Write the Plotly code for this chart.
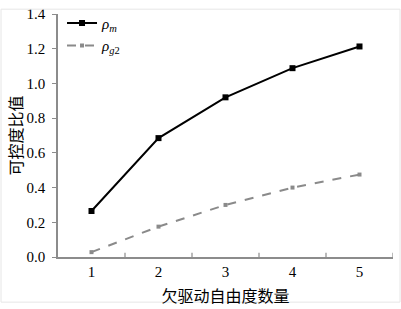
import plotly.graph_objects as go

categories = [1, 2, 3, 4, 5]
rho_m = [0.265, 0.685, 0.92, 1.088, 1.213]
rho_g2 = [0.028, 0.175, 0.30, 0.40, 0.475]
y_ticks = [0.0, 0.2, 0.4, 0.6, 0.8, 1.0, 1.2, 1.4]
y_tick_text = [f"{v:.1f}" for v in y_ticks]

serif = "Liberation Serif, Times New Roman, serif"
cjk = "Liberation Serif, Noto Sans CJK SC, serif"
axis_col = "#8c8c8c"

fig = go.Figure()
fig.add_trace(go.Scatter(
    x=categories, y=rho_m, mode="lines+markers",
    name="<i>ρ</i><sub><i>m</i></sub>",
    line=dict(color="black", width=2),
    marker=dict(symbol="square", size=6, color="black"),
))
fig.add_trace(go.Scatter(
    x=categories, y=rho_g2, mode="lines+markers",
    name="<i>ρ</i><sub><i>g</i>2</sub>",
    line=dict(color="#8a8a8a", width=2, dash="dash"),
    marker=dict(symbol="square", size=4, color="#8a8a8a"),
))

fig.update_layout(
    width=401, height=309,
    margin=dict(l=58, r=8, t=6, b=50),
    paper_bgcolor="white", plot_bgcolor="white",
    font=dict(family=serif, size=15, color="black"),
    showlegend=True,
    legend=dict(x=0.012, y=1.03, xanchor="left", yanchor="top",
                bgcolor="rgba(0,0,0,0)", font=dict(size=15, family=serif),
                itemwidth=30, tracegroupgap=0),
    xaxis=dict(
        range=[0.5, 5.5], tickmode="array", tickvals=categories,
        ticktext=[str(c) for c in categories],
        showline=True, linecolor=axis_col, linewidth=1.5,
        ticks="", showgrid=False, zeroline=False,
        tickfont=dict(size=15, family=serif),
        title=dict(text="欠驱动自由度数量", font=dict(size=16, family=cjk), standoff=12),
    ),
    yaxis=dict(
        range=[0, 1.4001], tickmode="array", tickvals=y_ticks, ticktext=y_tick_text,
        showline=True, linecolor=axis_col, linewidth=1.5,
        ticks="outside", ticklen=4, tickcolor=axis_col,
        ticklabelstandoff=4,
        showgrid=False, zeroline=False,
        tickfont=dict(size=15, family=serif),
        title=dict(text="可控度比值", font=dict(size=16, family=cjk), standoff=0),
    ),
)

# inside tick marks on x axis between categories
for xv in [1.5, 2.5, 3.5, 4.5, 5.5]:
    fig.add_shape(type="line", xref="x", yref="paper", x0=xv, x1=xv, y0=0, y1=0.018,
                  line=dict(color=axis_col, width=1.2))

# faint frame around the image
fig.add_shape(type="rect", xref="paper", yref="paper",
              x0=-57/335, x1=1+7/335, y0=-47/253, y1=1+5/253,
              line=dict(color="#e6e6e6", width=1))

fig.write_html("out.html", config={"displayModeBar": False},
               post_script="document.body.style.margin='0';")
